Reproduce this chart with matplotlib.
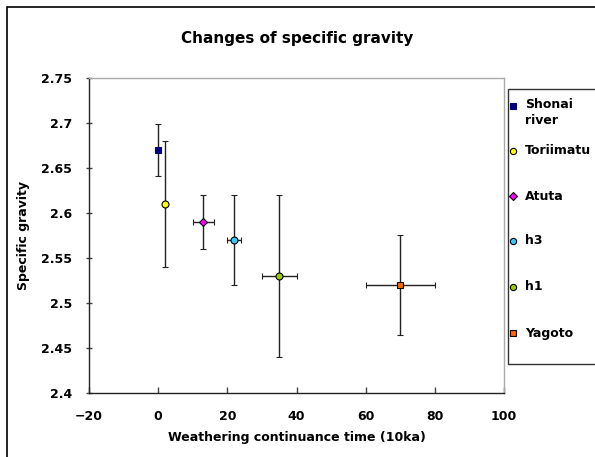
import matplotlib
matplotlib.use("Agg")
import matplotlib.pyplot as plt
from matplotlib.patches import Rectangle
from matplotlib.lines import Line2D

# data
sites = ["Shonai\nriver", "Toriimatu", "Atuta", "h3", "h1", "Yagoto"]
age = [0, 2, 13, 22, 35, 70]
age_err = [0, 0, 3, 2, 5, 10]
gravity = [2.67, 2.61, 2.59, 2.57, 2.53, 2.52]
gravity_err = [0.029, 0.07, 0.03, 0.05, 0.09, 0.056]
markers = ["s", "o", "D", "o", "o", "s"]
face_colors = ["#000080", "#FFFF00", "#FF00FF", "#33CCFF", "#99CC00", "#FF6600"]
edge_colors = ["#000080", "#000000", "#000000", "#000000", "#000000", "#000000"]
marker_sizes = [5, 5, 4.5, 5, 5, 5]

x_ticks = [-20, 0, 20, 40, 60, 80, 100]
y_ticks = [2.4, 2.45, 2.5, 2.55, 2.6, 2.65, 2.7, 2.75]
y_tick_labels = ["2.4", "2.45", "2.5", "2.55", "2.6", "2.65", "2.7", "2.75"]

W, H = 595, 457
fig = plt.figure(figsize=(W / 100, H / 100), dpi=100)
plt.rcParams['font.weight'] = 'bold'

# outer chart border (runs off the image on the right/bottom like the original)
fig.patches.append(Rectangle((7 / W, -0.1), 1.2, 1 - 7 / H + 0.1, transform=fig.transFigure,
                             fill=False, edgecolor="black", linewidth=1.2))

ax = fig.add_axes([89 / W, 1 - 393 / H, (504 - 89) / W, (393 - 78) / H])

for i in range(len(sites)):
    xerr = age_err[i] if age_err[i] > 0 else None
    ax.errorbar(age[i], gravity[i], yerr=gravity_err[i], xerr=xerr,
                fmt=markers[i], markersize=marker_sizes[i],
                markerfacecolor=face_colors[i], markeredgecolor=edge_colors[i],
                markeredgewidth=0.8, ecolor="#222222", elinewidth=1,
                capsize=2.5, capthick=1, zorder=3)

ax.set_xlim(-20, 100)
ax.set_ylim(2.4, 2.75)
ax.set_xticks(x_ticks)
ax.set_yticks(y_ticks)
ax.set_yticklabels(y_tick_labels)
ax.tick_params(axis="x", direction="in", length=4, width=1, color="#444444",
               labelsize=9, pad=12)
ax.tick_params(axis="y", direction="inout", length=4, width=1, color="#444444",
               labelsize=9, pad=10)
for lbl in ax.get_xticklabels() + ax.get_yticklabels():
    lbl.set_fontweight("bold")

ax.spines["left"].set_color("#222222")
ax.spines["bottom"].set_color("#222222")
ax.spines["top"].set_color("#aaaaaa")
ax.spines["right"].set_color("#aaaaaa")
for s in ax.spines.values():
    s.set_linewidth(1)

ax.set_xlabel("Weathering continuance time (10ka)", fontsize=9, fontweight="bold", labelpad=6)
ax.set_ylabel("Specific gravity", fontsize=9, fontweight="bold", labelpad=8)
fig.text(297 / W, 1 - 39 / H, "Changes of specific gravity", ha="center", va="center",
         fontsize=11, fontweight="bold")

# legend box, laid out in fixed slots like the spreadsheet original
fig.patches.append(Rectangle((508 / W, 1 - 364 / H), 0.3, (364 - 89) / H,
                             transform=fig.transFigure, fill=False,
                             edgecolor="#333333", linewidth=1))
row_y = [106, 151, 196, 241, 287, 333]
for i in range(len(sites)):
    yy = 1 - row_y[i] / H
    fig.add_artist(Line2D([513 / W], [yy], transform=fig.transFigure,
                          marker=markers[i], markersize=marker_sizes[i] - 0.5,
                          markerfacecolor=face_colors[i], markeredgecolor=edge_colors[i],
                          markeredgewidth=0.8, linestyle="none"))
    if "\n" in sites[i]:
        fig.text(525 / W, yy + 8 / H, sites[i], ha="left", va="top",
                 fontsize=9, fontweight="bold", linespacing=1.3)
    else:
        fig.text(525 / W, yy, sites[i], ha="left", va="center",
                 fontsize=9, fontweight="bold")

fig.savefig("out.png", dpi=100)
